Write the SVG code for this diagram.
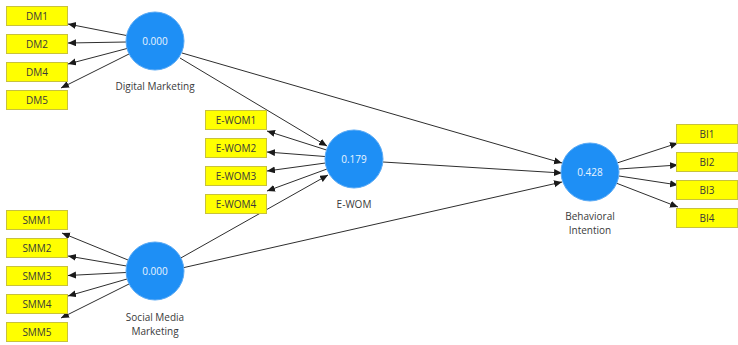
<svg xmlns="http://www.w3.org/2000/svg" width="738" height="345" viewBox="0 0 738 345">
  <style>
    .ind rect { fill: #ffff00; stroke: #c8c23c; stroke-width: 1; }
    .ind text { font-family: "Open Sans", "Liberation Sans", sans-serif; font-size: 10px; fill: #3a3a3a; text-anchor: middle; }
    .lv circle { fill: #1e8ff5; stroke: #5aaaf5; stroke-width: 1; }
    .lv .val { font-family: "Open Sans", "Liberation Sans", sans-serif; font-size: 10px; fill: #e8f4ff; text-anchor: middle; }
    .lv .name { font-family: "Open Sans", "Liberation Sans", sans-serif; font-size: 10px; fill: #3a3a3a; text-anchor: middle; }
    #connectors line { stroke: #2e2e2e; stroke-width: 1; marker-end: url(#arrow); }
  </style>
  <defs>
    <marker id="arrow" markerUnits="userSpaceOnUse" markerWidth="9" markerHeight="8" refX="8" refY="3.5" orient="auto">
      <path d="M0,0 L8,3.5 L0,7 z" fill="#1a1a1a"/>
    </marker>
  </defs>
  <rect width="738" height="345" fill="#ffffff"/>

  <!-- paths between constructs and from constructs to their indicators -->
  <g id="connectors">
    <!-- Digital Marketing -> indicators -->
    <line x1="126.5" y1="35.5" x2="68" y2="24"/>
    <line x1="126" y1="42" x2="68" y2="43"/>
    <line x1="127" y1="48.5" x2="68" y2="64"/>
    <line x1="129" y1="54" x2="61" y2="88"/>
    <!-- Social Media Marketing -> indicators -->
    <line x1="128" y1="260" x2="62" y2="233"/>
    <line x1="126.5" y1="266" x2="68" y2="256"/>
    <line x1="126" y1="272.5" x2="68" y2="275.5"/>
    <line x1="127" y1="279" x2="68" y2="296"/>
    <line x1="129" y1="284" x2="61" y2="318"/>
    <!-- E-WOM -> indicators -->
    <line x1="326.5" y1="150" x2="267" y2="131"/>
    <line x1="325" y1="156.5" x2="267" y2="152"/>
    <line x1="325.5" y1="163" x2="267" y2="171"/>
    <line x1="327" y1="169" x2="267" y2="191"/>
    <!-- Behavioral Intention -> indicators -->
    <line x1="617" y1="163" x2="678" y2="143"/>
    <line x1="619" y1="169" x2="678" y2="165"/>
    <line x1="619" y1="176" x2="678" y2="185"/>
    <line x1="616" y1="183" x2="678" y2="207"/>
    <!-- structural paths -->
    <line x1="180" y1="58" x2="327" y2="146"/>
    <line x1="182" y1="53" x2="562" y2="163"/>
    <line x1="383" y1="162" x2="562" y2="173"/>
    <line x1="179" y1="259" x2="328" y2="175"/>
    <line x1="182" y1="268" x2="562" y2="182"/>
  </g>

  <g id="DM1" class="ind"><rect x="6.5" y="6.5" width="61" height="19"/><text x="37" y="19.5">DM1</text></g>
  <g id="DM2" class="ind"><rect x="6.5" y="34.5" width="61" height="19"/><text x="37" y="47.5">DM2</text></g>
  <g id="DM4" class="ind"><rect x="6.5" y="62.5" width="61" height="19"/><text x="37" y="75.5">DM4</text></g>
  <g id="DM5" class="ind"><rect x="6.5" y="90.5" width="61" height="19"/><text x="37" y="103.5">DM5</text></g>

  <g id="SMM1" class="ind"><rect x="6.5" y="210.5" width="61" height="19"/><text x="37" y="223.5">SMM1</text></g>
  <g id="SMM2" class="ind"><rect x="6.5" y="238.5" width="61" height="19"/><text x="37" y="251.5">SMM2</text></g>
  <g id="SMM3" class="ind"><rect x="6.5" y="266.5" width="61" height="19"/><text x="37" y="279.5">SMM3</text></g>
  <g id="SMM4" class="ind"><rect x="6.5" y="294.5" width="61" height="19"/><text x="37" y="307.5">SMM4</text></g>
  <g id="SMM5" class="ind"><rect x="6.5" y="322.5" width="61" height="19"/><text x="37" y="335.5">SMM5</text></g>

  <g id="EWOM1" class="ind"><rect x="205.5" y="110.5" width="61" height="19"/><text x="236" y="123.5">E-WOM1</text></g>
  <g id="EWOM2" class="ind"><rect x="205.5" y="138.5" width="61" height="19"/><text x="236" y="151.5">E-WOM2</text></g>
  <g id="EWOM3" class="ind"><rect x="205.5" y="166.5" width="61" height="19"/><text x="236" y="179.5">E-WOM3</text></g>
  <g id="EWOM4" class="ind"><rect x="205.5" y="194.5" width="61" height="19"/><text x="236" y="207.5">E-WOM4</text></g>

  <g id="BI1" class="ind"><rect x="676.5" y="124.5" width="61" height="19"/><text x="707" y="137.5">BI1</text></g>
  <g id="BI2" class="ind"><rect x="676.5" y="152.5" width="61" height="19"/><text x="707" y="165.5">BI2</text></g>
  <g id="BI3" class="ind"><rect x="676.5" y="180.5" width="61" height="19"/><text x="707" y="193.5">BI3</text></g>
  <g id="BI4" class="ind"><rect x="676.5" y="208.5" width="61" height="19"/><text x="707" y="221.5">BI4</text></g>

  <g id="DigitalMarketing" class="lv">
    <circle cx="155" cy="41" r="29"/>
    <text class="val" x="155" y="44.5">0.000</text>
    <text class="name" x="155" y="90">Digital Marketing</text>
  </g>
  <g id="SocialMediaMarketing" class="lv">
    <circle cx="155" cy="271" r="29"/>
    <text class="val" x="155" y="274.5">0.000</text>
    <text class="name" x="155" y="321">Social Media</text>
    <text class="name" x="155" y="335">Marketing</text>
  </g>
  <g id="EWOM" class="lv">
    <circle cx="354" cy="159" r="29"/>
    <text class="val" x="354" y="162.5">0.179</text>
    <text class="name" x="354" y="207.5">E-WOM</text>
  </g>
  <g id="BehavioralIntention" class="lv">
    <circle cx="590" cy="172" r="29"/>
    <text class="val" x="590" y="175.5">0.428</text>
    <text class="name" x="590" y="220">Behavioral</text>
    <text class="name" x="590" y="234">Intention</text>
  </g>
</svg>
